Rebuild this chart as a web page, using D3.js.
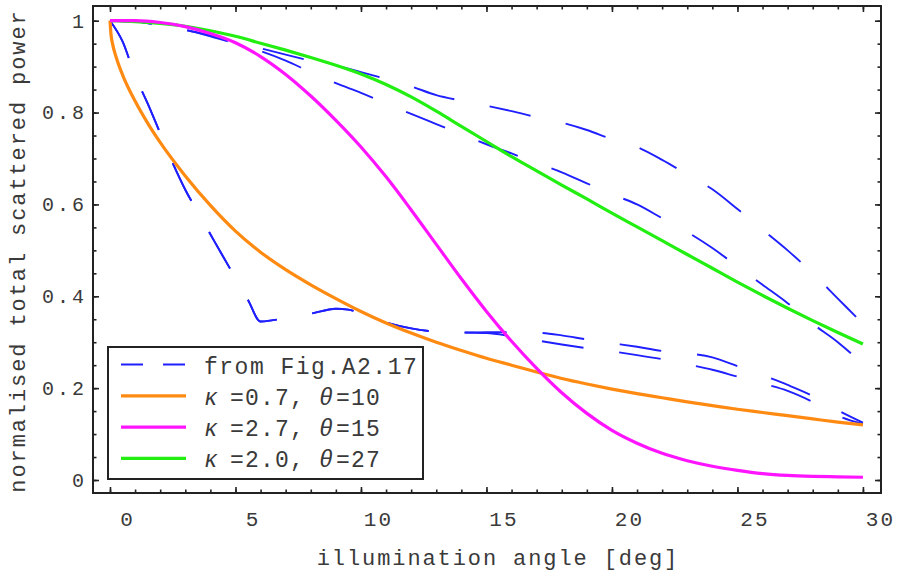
<!DOCTYPE html>
<html><head><meta charset="utf-8">
<script src="https://cdn.jsdelivr.net/npm/d3@7"></script>
<style>
body{margin:0;background:#fff;}
svg{display:block;}
text{font-family:"Liberation Mono","Courier New",monospace;fill:#3a3a3a;}
</style></head><body>
<svg id="chart" width="898" height="575"></svg>
<script>
// ---- data ----
const xTicks = [0, 5, 10, 15, 20, 25, 30];
const yTicks = [0, 0.2, 0.4, 0.6, 0.8, 1];
const yTickLabels = ["0", "0.2", "0.4", "0.6", "0.8", "1"];
const xLabel = "illumination angle [deg]";
const yLabel = "normalised total scattered power";
const legendFirst = "from Fig.A2.17";
const legendKappa = ["0.7", "2.7", "2.0"];
const legendTheta = ["10", "15", "27"];

// dashed curves digitised "from Fig.A2.17"
const figA2_17_a = [[0,1],[1,0.998],[2,0.99],[3,0.98],[4,0.968],[5,0.955],[6,0.94],[7,0.926],[8,0.913],[9,0.902],[10,0.888],[11,0.873],[12,0.857],[13,0.838],[14,0.826],[15,0.815],[16,0.803],[17,0.79],[18,0.778],[19,0.762],[20,0.742],[21,0.725],[22,0.697],[23,0.665],[24,0.633],[25,0.59],[26,0.545],[27,0.5],[28,0.45],[29,0.395],[30,0.34]];
const figA2_17_b = [[0,1],[1,0.998],[2,0.99],[3,0.98],[4,0.966],[5,0.95],[6,0.934],[7,0.913],[8,0.888],[9,0.864],[10,0.843],[11,0.82],[12,0.797],[13,0.775],[14,0.753],[15,0.731],[16,0.711],[17,0.69],[18,0.67],[19,0.646],[20,0.622],[21,0.6],[22,0.57],[23,0.54],[24,0.505],[25,0.465],[26,0.425],[27,0.385],[28,0.34],[29,0.3],[30,0.252]];
const figA2_17_c = [[0,1],[0.5,0.955],[1,0.88],[1.5,0.82],[2,0.755],[2.5,0.69],[3,0.632],[3.5,0.583],[4,0.535],[4.5,0.487],[5,0.44],[5.5,0.392],[6,0.345],[6.5,0.348],[7,0.352],[8,0.362],[9,0.373],[9.5,0.371],[10,0.362],[11,0.343],[12,0.33],[13,0.323],[14,0.321],[15,0.322],[16,0.322],[17,0.321],[18,0.315],[19,0.306],[20,0.298],[21,0.29],[22,0.281],[23,0.276],[24,0.267],[25,0.248],[26,0.228],[27,0.207],[28,0.183],[29,0.152],[30,0.125]];
const figA2_17_d = [[0,1],[0.5,0.955],[1,0.88],[1.5,0.82],[2,0.755],[2.5,0.69],[3,0.632],[3.5,0.583],[4,0.535],[4.5,0.487],[5,0.44],[5.5,0.392],[6,0.345],[6.5,0.348],[7,0.352],[8,0.362],[9,0.373],[9.5,0.371],[10,0.362],[11,0.343],[12,0.33],[13,0.323],[14,0.321],[15,0.32],[16,0.313],[17,0.304],[18,0.295],[19,0.287],[20,0.28],[21,0.272],[22,0.263],[23,0.252],[24,0.24],[25,0.225],[26,0.21],[27,0.194],[28,0.17],[29,0.14],[30,0.122]];

// model curves
const kappa07_theta10 = [[0,1],[0.04,0.97],[0.1,0.95],[0.25,0.92],[0.5,0.882],[1,0.825],[1.5,0.777],[2,0.735],[3,0.662],[4,0.598],[5,0.542],[6,0.496],[7,0.458],[8,0.425],[9,0.395],[10,0.367],[11,0.342],[12,0.32],[13,0.3],[14,0.282],[15,0.265],[16,0.25],[17,0.235],[18,0.221],[19,0.209],[20,0.198],[21,0.188],[22,0.179],[23,0.17],[24,0.162],[25,0.154],[26,0.147],[27,0.14],[28,0.133],[29,0.126],[30,0.12]];
const kappa27_theta15 = [[0,1],[1,1],[2,0.996],[3,0.987],[4,0.972],[5,0.952],[6,0.922],[7,0.883],[8,0.836],[9,0.783],[10,0.725],[11,0.66],[12,0.588],[13,0.513],[14,0.438],[15,0.367],[16,0.302],[17,0.243],[18,0.19],[19,0.145],[20,0.108],[21,0.08],[22,0.058],[23,0.042],[24,0.03],[25,0.021],[26,0.014],[27,0.01],[28,0.008],[29,0.007],[30,0.006]];
const kappa20_theta27 = [[0,1],[1,0.998],[2,0.994],[3,0.988],[4,0.978],[5,0.966],[6,0.951],[7,0.936],[8,0.92],[9,0.903],[10,0.884],[11,0.861],[12,0.834],[13,0.803],[14,0.77],[15,0.737],[16,0.704],[17,0.673],[18,0.642],[19,0.612],[20,0.581],[21,0.551],[22,0.521],[23,0.491],[24,0.461],[25,0.431],[26,0.402],[27,0.374],[28,0.347],[29,0.321],[30,0.296]];

const colBlue = "#1f1fff", colOrange = "#ff8a12", colMagenta = "#ff14ff", colGreen = "#22ee11";

// ---- layout ----
const svg = d3.select("#chart");
const L = 93, R = 881, T = 6, B = 493;
const x = d3.scaleLinear().domain([-0.677, 30.72]).range([L, R]);
const y = d3.scaleLinear().domain([-0.0283, 1.032]).range([B, T]);

const line = d3.line().x(d => x(d[0])).y(d => y(d[1])).curve(d3.curveMonotoneX);

// dashed data
[figA2_17_a, figA2_17_b, figA2_17_c, figA2_17_d].forEach(s => {
  svg.append("path").attr("d", line(s)).attr("fill", "none")
    .attr("stroke", colBlue).attr("stroke-width", 1.9)
    .attr("stroke-dasharray", "42 36");
});
// model curves
[[kappa20_theta27, colGreen], [kappa07_theta10, colOrange], [kappa27_theta15, colMagenta]].forEach(([s, c]) => {
  svg.append("path").attr("d", line(s)).attr("fill", "none")
    .attr("stroke", c).attr("stroke-width", 3.2).attr("stroke-linejoin", "round");
});

// axes (ticks inward)
const xMinor = d3.range(0, 31, 1);
const yMinor = d3.range(0, 1.001, 0.05);
function styleAxis(g) {
  g.select(".domain").remove();
  g.selectAll("line").attr("stroke", "#222").attr("stroke-width", 1.6);
}
svg.append("g").attr("transform", `translate(0,${B})`)
  .call(d3.axisBottom(x).tickValues(xMinor).tickSizeInner(-3.5).tickSizeOuter(0).tickFormat(""))
  .call(styleAxis);
const gx = svg.append("g").attr("transform", `translate(0,${B})`)
  .call(d3.axisBottom(x).tickValues(xTicks).tickSizeInner(-6).tickSizeOuter(0).tickPadding(18).tickFormat(d3.format("d")))
  .call(styleAxis);
gx.selectAll("text").attr("font-size", 21).attr("dx", 17).attr("letter-spacing", 2)
  .style("font-family", '"Liberation Mono", monospace').attr("fill", "#3a3a3a");

svg.append("g").attr("transform", `translate(0,${T})`)
  .call(d3.axisTop(x).tickValues(xMinor).tickSizeInner(-3.5).tickSizeOuter(0).tickFormat(""))
  .call(styleAxis);
svg.append("g").attr("transform", `translate(0,${T})`)
  .call(d3.axisTop(x).tickValues(xTicks).tickSizeInner(-6).tickSizeOuter(0).tickFormat(""))
  .call(styleAxis);

svg.append("g").attr("transform", `translate(${L},0)`)
  .call(d3.axisLeft(y).tickValues(yMinor).tickSizeInner(-3.5).tickSizeOuter(0).tickFormat(""))
  .call(styleAxis);
const gy = svg.append("g").attr("transform", `translate(${L},0)`)
  .call(d3.axisLeft(y).tickValues(yTicks).tickSizeInner(-6).tickSizeOuter(0).tickPadding(6)
    .tickFormat((d, i) => yTickLabels[i]))
  .call(styleAxis);
gy.selectAll("text").attr("font-size", 20).attr("letter-spacing", 3)
  .style("font-family", '"Liberation Mono", monospace').attr("fill", "#3a3a3a");

svg.append("g").attr("transform", `translate(${R},0)`)
  .call(d3.axisRight(y).tickValues(yMinor).tickSizeInner(-3.5).tickSizeOuter(0).tickFormat(""))
  .call(styleAxis);
svg.append("g").attr("transform", `translate(${R},0)`)
  .call(d3.axisRight(y).tickValues(yTicks).tickSizeInner(-6).tickSizeOuter(0).tickFormat(""))
  .call(styleAxis);

// frame
svg.append("rect").attr("x", L).attr("y", T).attr("width", R - L).attr("height", B - T)
  .attr("fill", "none").attr("stroke", "#222").attr("stroke-width", 2);

// axis labels
svg.append("text").attr("x", 498).attr("y", 565).attr("text-anchor", "middle")
  .attr("font-size", 22).attr("letter-spacing", 1.9).text(xLabel);
svg.append("text").attr("transform", `translate(25,251) rotate(-90)`).attr("text-anchor", "middle")
  .attr("font-size", 22).attr("letter-spacing", 1.9).text(yLabel);

// legend
const lg = svg.append("g");
lg.append("rect").attr("x", 108).attr("y", 347).attr("width", 315).attr("height", 132)
  .attr("fill", "#fff").attr("stroke", "#222").attr("stroke-width", 2);
const rowY = i => 364.5 + i * 31.3;
const legendItems = [
  {color: colBlue, dash: "22 20", w: 2.2},
  {color: colOrange, dash: null, w: 3.2},
  {color: colMagenta, dash: null, w: 3.2},
  {color: colGreen, dash: null, w: 3.2}
];
legendItems.forEach((it, i) => {
  lg.append("line").attr("x1", 121).attr("x2", 186).attr("y1", rowY(i)).attr("y2", rowY(i))
    .attr("stroke", it.color).attr("stroke-width", it.w).attr("stroke-dasharray", it.dash);
  const ty = rowY(i) + 9;
  if (i === 0) {
    lg.append("text").attr("x", 204).attr("y", ty).attr("font-size", 23)
      .attr("letter-spacing", 1.5).text(legendFirst);
  } else {
    const t = lg.append("text").attr("y", ty).attr("font-size", 23).attr("letter-spacing", 1.2);
    t.append("tspan").attr("x", 204).attr("font-style", "italic").text("κ");
    t.append("tspan").attr("x", 230).text("=" + legendKappa[i - 1] + ",");
    t.append("tspan").attr("x", 319).attr("font-style", "italic").text("θ");
    t.append("tspan").attr("x", 336).text("=" + legendTheta[i - 1]);
  }
});
</script>
</body></html>
